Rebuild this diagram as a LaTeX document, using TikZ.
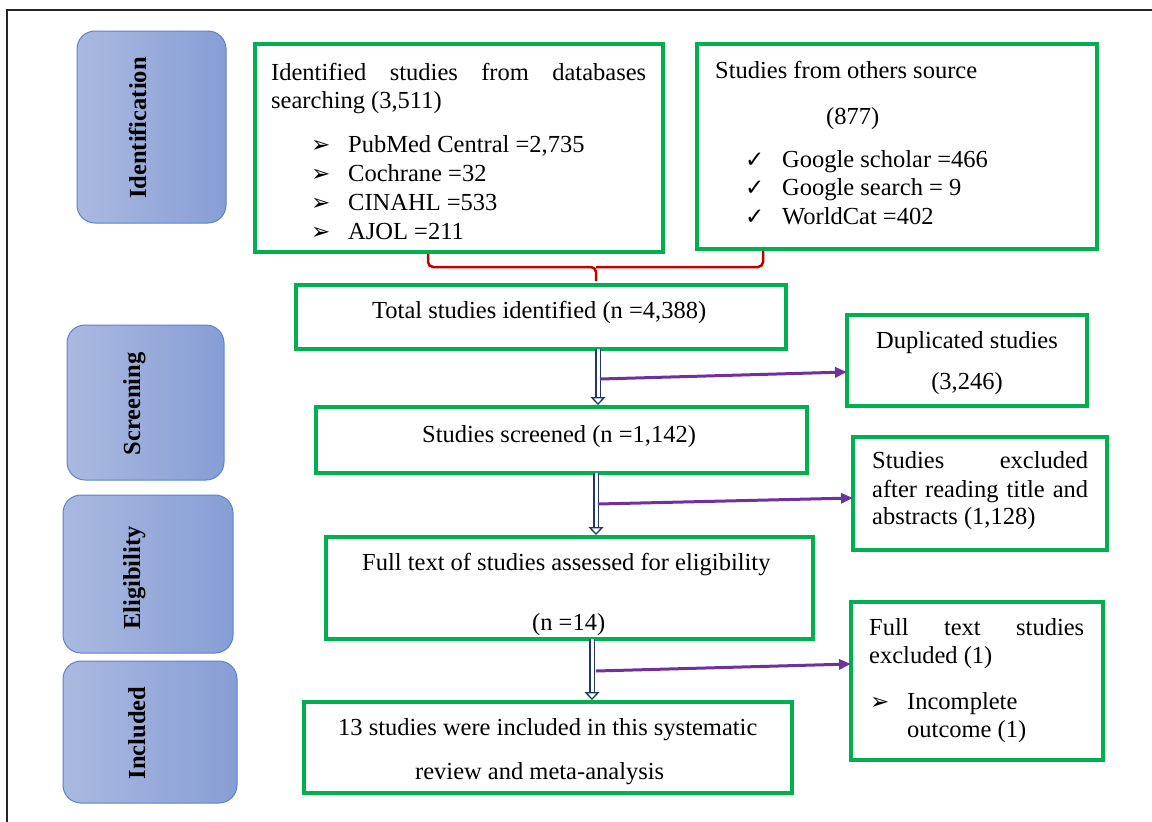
\documentclass[tikz,border=0pt]{standalone}
\usepackage{fontspec}
\setmainfont{Liberation Serif}
\newfontfamily\symfont{DejaVu Sans}
\usetikzlibrary{arrows.meta,calc}
\definecolor{boxgreen}{HTML}{00B050}
\definecolor{stageL}{HTML}{AAB9E0}
\definecolor{stageR}{HTML}{879ED5}
\definecolor{stageedge}{HTML}{5B82CC}
\definecolor{arrownavy}{HTML}{1F3864}
\definecolor{arrowpurple}{HTML}{7030A0}
\definecolor{bracketred}{HTML}{C00000}
\tikzset{
  gbox/.style={draw=boxgreen, line width=4.5pt, inner sep=0pt, outer sep=0pt, anchor=north west},
  stagebox/.style={draw=stageedge, line width=1pt, rounded corners=18pt, left color=stageL, right color=stageR, inner sep=0pt, outer sep=0pt, anchor=north west},
  stagelabel/.style={rotate=90, anchor=base, font=\fontsize{24.5}{29}\selectfont\bfseries, inner sep=0pt},
  txt/.style={font=\fontsize{24.5}{29}\selectfont, inner sep=0pt, anchor=base west},
  ctxt/.style={font=\fontsize{24.5}{29}\selectfont, inner sep=0pt, anchor=base},
  sym/.style={font=\fontsize{23}{26}\symfont, inner sep=0pt, anchor=base west},
  dblshaft/.style={draw=arrownavy, double=white, double distance=3pt, line width=1.2pt},
  dbltip/.style={draw=arrownavy, line width=1.3pt, -{Triangle[open, fill=white, length=8pt, width=15pt]}},
  parrow/.style={draw=arrowpurple, line width=3pt, -{Triangle[length=12pt, width=10pt]}},
  bracket/.style={draw=bracketred, line width=2.5pt, rounded corners=5pt},
}
\begin{document}
\begin{tikzpicture}[x=1pt, y={(0pt,-1pt)}]
\useasboundingbox (0,0) rectangle (1152,822);
% outer frame
\draw[line width=1.2pt, black!85] (7,822) -- (7,10) -- (1152,10);

% stage boxes
\node[stagebox, minimum width=149pt, minimum height=192pt] (sid) at (77,31) {};
\node[stagebox, minimum width=157pt, minimum height=155pt] (sscr) at (67,325) {};
\node[stagebox, minimum width=170pt, minimum height=158pt] (selig) at (63,495) {};
\node[stagebox, minimum width=174pt, minimum height=142pt] (sinc) at (63,661) {};
\node[stagelabel] (lid) at (146,128) {Identification};
\node[stagelabel] (lscr) at (140,404) {Screening};
\node[stagelabel] (lelig) at (140,578) {Eligibility};
\node[stagelabel] (linc) at (145,733) {Included};

% green boxes
\node[gbox, minimum width=408pt, minimum height=208pt] (db) at (255,44) {};
\node[gbox, minimum width=400pt, minimum height=205pt] (oth) at (697,44) {};
\node[gbox, minimum width=490pt, minimum height=64pt] (total) at (296,285) {};
\node[gbox, minimum width=240pt, minimum height=91pt] (dup) at (847,315) {};
\node[gbox, minimum width=491pt, minimum height=66pt] (scr) at (316,407) {};
\node[gbox, minimum width=254pt, minimum height=113pt] (exc) at (853,437) {};
\node[gbox, minimum width=487pt, minimum height=102pt] (full) at (326,537) {};
\node[gbox, minimum width=252pt, minimum height=158pt] (fex) at (851,602) {};
\node[gbox, minimum width=488pt, minimum height=91pt] (inc) at (304,702) {};

% texts: databases box
\node[txt] (db1) at (271,80) {\makebox[375pt][s]{Identified studies from databases}};
\node[txt] (db2) at (271,108) {searching (3,511)};
\node[sym] (bu1) at (311,152) {➢};
\node[txt] (li1) at (348,152) {PubMed Central =2,735};
\node[sym] (bu2) at (311,181) {➢};
\node[txt] (li2) at (348,181) {Cochrane =32};
\node[sym] (bu3) at (311,210) {➢};
\node[txt] (li3) at (348,210) {CINAHL =533};
\node[sym] (bu4) at (311,239) {➢};
\node[txt] (li4) at (348,239) {AJOL =211};

% other sources box
\node[txt] (ot1) at (715,78) {Studies from others source};
\node[txt] (ot2) at (826,124) {(877)};
\node[sym] (ck1) at (745,167) {✓};
\node[txt] (gs1) at (782,167) {Google scholar =466};
\node[sym] (ck2) at (745,195) {✓};
\node[txt] (gs2) at (782,195) {Google search = 9};
\node[sym] (ck3) at (745,224) {✓};
\node[txt] (gs3) at (782,224) {WorldCat =402};

% other boxes
\node[txt] (tt) at (372,318) {Total studies identified (n =4,388)};
\node[ctxt] (du1) at (967,348) {Duplicated studies};
\node[ctxt] (du2) at (967,389) {(3,246)};
\node[txt] (sc) at (422,442) {Studies screened (n =1,142)};
\node[txt] (ex1) at (872,468) {\makebox[216pt][s]{Studies excluded}};
\node[txt] (ex2) at (872,497) {\makebox[216pt][s]{after reading title and}};
\node[txt] (ex3) at (872,524) {abstracts (1,128)};
\node[txt] (fu1) at (362,570) {Full text of studies assessed for eligibility};
\node[txt] (fu2) at (532,630) {(n =14)};
\node[txt] (fx1) at (869,635) {\makebox[215pt][s]{Full text studies}};
\node[txt] (fx2) at (869,663) {excluded (1)};
\node[sym] (bu5) at (870,709) {➢};
\node[txt] (fx3) at (907,709) {Incomplete};
\node[txt] (fx4) at (907,737) {outcome (1)};
\node[txt] (in1) at (338,735) {13 studies were included in this systematic};
\node[txt] (in2) at (415,779) {review and meta-analysis};

% red bracket
\coordinate (bl) at (428,0);
\coordinate (br) at (763,0);
\coordinate (bm) at (596,267);
\draw[bracket, shorten <=2pt] (db.south -| bl) |- (bm) -- ([yshift=4pt]total.north -| bm);
\draw[bracket, shorten <=2pt] (oth.south -| br) |- (bm);

% double arrows
\coordinate (c1) at (598,0);
\coordinate (c2) at (596,0);
\coordinate (c3) at (592,0);
\draw[dblshaft] (total.south -| c1) -- ($(scr.north -| c1)+(0,-7)$);
\draw[dbltip] ($(scr.north -| c1)+(0,-10)$) -- ($(scr.north -| c1)+(0,-2)$);
\draw[dblshaft] (scr.south -| c2) -- ($(full.north -| c2)+(0,-7)$);
\draw[dbltip] ($(full.north -| c2)+(0,-10)$) -- ($(full.north -| c2)+(0,-2)$);
\draw[dblshaft] (full.south -| c3) -- ($(inc.north -| c3)+(0,-7)$);
\draw[dbltip] ($(inc.north -| c3)+(0,-10)$) -- ($(inc.north -| c3)+(0,-2)$);

% purple arrows
\coordinate (p1s) at (600,379);
\coordinate (p1e) at (0,372);
\coordinate (p2s) at (598,504);
\coordinate (p2e) at (0,498);
\coordinate (p3s) at (596,671);
\coordinate (p3e) at (0,664);
\draw[parrow] (p1s) -- (dup.west |- p1e);
\draw[parrow] (p2s) -- (exc.west |- p2e);
\draw[parrow] (p3s) -- (fex.west |- p3e);
\end{tikzpicture}
\end{document}
